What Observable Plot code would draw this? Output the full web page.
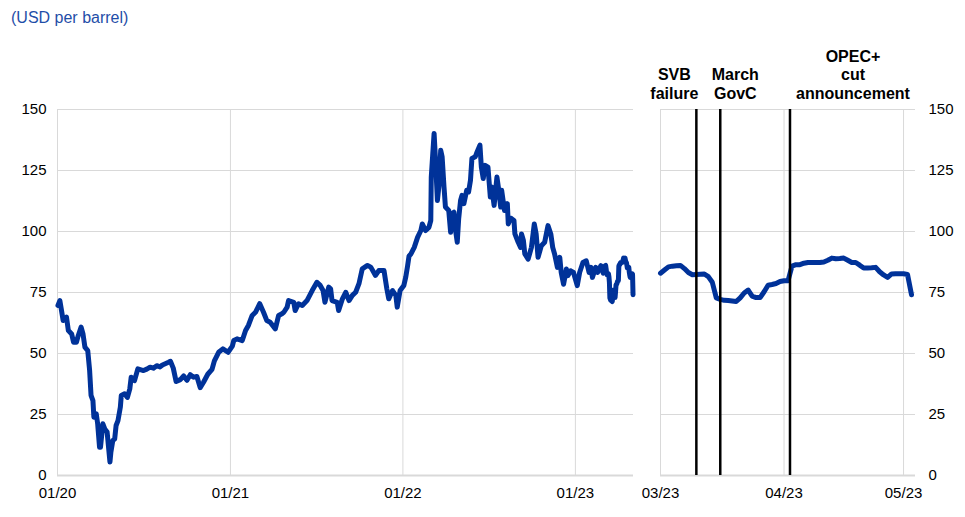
<!DOCTYPE html>
<html><head><meta charset="utf-8">
<script src="https://cdn.jsdelivr.net/npm/d3@7"></script>
<script src="https://cdn.jsdelivr.net/npm/@observablehq/plot@0.6"></script>
<style>
body{margin:0;background:#fff;font-family:"Liberation Sans",Arial,sans-serif;}
#title{height:40px;box-sizing:border-box;padding:9px 0 0 11px;font-size:16px;line-height:18px;color:#1f4ea8;}
#row{display:flex;}
</style></head><body>
<div id="title">(USD per barrel)</div>
<div id="row"><div id="left"></div><div id="right"></div></div>
<script>
// Brent crude oil price, USD per barrel
const brentWeekly = [
["2020-01-02",69.7],["2020-01-06",71.7],["2020-01-10",67.0],["2020-01-13",63.5],["2020-01-20",64.9],["2020-01-24",59.4],["2020-01-31",58.0],["2020-02-04",54.6],["2020-02-10",54.6],["2020-02-14",57.4],["2020-02-20",60.8],["2020-02-24",58.0],["2020-02-28",52.6],["2020-03-05",51.2],["2020-03-09",43.0],["2020-03-12",32.8],["2020-03-16",30.7],["2020-03-18",23.9],["2020-03-23",25.3],["2020-03-26",21.2],["2020-03-30",11.6],["2020-04-01",11.6],["2020-04-06",21.2],["2020-04-10",19.1],["2020-04-15",17.8],["2020-04-21",5.5],["2020-04-23",9.6],["2020-04-27",14.3],["2020-05-01",15.0],["2020-05-04",20.5],["2020-05-08",22.5],["2020-05-13",28.0],["2020-05-15",32.8],["2020-05-22",33.5],["2020-05-28",32.0],["2020-06-02",35.5],["2020-06-05",40.3],["2020-06-12",38.9],["2020-06-19",43.7],["2020-07-01",43.0],["2020-07-08",43.6],["2020-07-15",44.4],["2020-07-22",44.0],["2020-07-29",45.0],["2020-08-05",44.5],["2020-08-10",45.3],["2020-08-16",45.8],["2020-08-23",46.4],["2020-08-27",46.8],["2020-09-02",44.0],["2020-09-08",38.5],["2020-09-17",39.3],["2020-09-24",40.8],["2020-10-01",39.0],["2020-10-08",41.3],["2020-10-15",40.3],["2020-10-22",40.6],["2020-10-29",36.0],["2020-11-05",38.2],["2020-11-14",41.5],["2020-11-23",43.5],["2020-11-28",47.0],["2020-12-07",50.5],["2020-12-16",51.9],["2020-12-27",50.5],
["2021-01-05",53.0],["2021-01-08",55.3],["2021-01-15",56.0],["2021-01-26",55.3],["2021-02-02",59.4],["2021-02-08",61.5],["2021-02-16",65.6],["2021-02-23",66.9],["2021-03-04",70.4],["2021-03-12",66.9],["2021-03-19",63.5],["2021-03-26",62.8],["2021-04-06",60.1],["2021-04-13",65.6],["2021-04-20",66.3],["2021-04-24",66.9],["2021-05-01",69.0],["2021-05-04",71.7],["2021-05-15",71.0],["2021-05-18",67.6],["2021-05-25",70.4],["2021-06-02",69.7],["2021-06-12",71.7],["2021-06-23",75.8],["2021-07-03",79.2],["2021-07-10",77.9],["2021-07-16",75.8],["2021-07-20",71.0],["2021-07-28",77.2],["2021-08-01",76.5],["2021-08-04",71.7],["2021-08-15",71.0],["2021-08-18",67.6],["2021-08-26",72.4],["2021-09-02",75.1],["2021-09-09",71.7],["2021-09-16",73.8],["2021-09-23",75.1],["2021-09-30",78.6],["2021-10-07",84.7],["2021-10-18",86.1],["2021-10-25",85.4],["2021-11-04",82.0],["2021-11-11",84.0],["2021-11-22",84.0],["2021-11-28",76.5],["2021-12-02",72.4],["2021-12-10",75.8],["2021-12-17",73.8],["2021-12-20",69.0],["2021-12-26",75.8],
["2022-01-03",77.9],["2022-01-07",81.3],["2022-01-11",86.0],["2022-01-14",90.0],["2022-01-18",90.8],["2022-01-25",93.5],["2022-02-01",97.6],["2022-02-08",100.4],["2022-02-11",103.1],["2022-02-18",100.4],["2022-02-25",101.7],["2022-03-01",104.5],["2022-03-02",122.3],["2022-03-08",140.2],["2022-03-11",129.2],["2022-03-15",112.7],["2022-03-18",118.2],["2022-03-22",133.3],["2022-03-25",130.6],["2022-03-29",118.2],["2022-04-01",110.0],["2022-04-08",108.6],["2022-04-12",99.7],["2022-04-15",107.3],["2022-04-19",107.9],["2022-04-22",101.1],["2022-04-26",95.6],["2022-04-29",105.2],["2022-05-03",112.7],["2022-05-06",114.8],["2022-05-10",111.4],["2022-05-16",116.9],["2022-05-20",116.2],["2022-05-24",121.0],["2022-05-27",129.9],["2022-06-03",130.6],["2022-06-07",132.6],["2022-06-13",135.4],["2022-06-16",126.4],["2022-06-20",121.7],["2022-06-24",127.1],["2022-06-30",126.4],["2022-07-05",114.1],["2022-07-08",118.2],["2022-07-13",110.7],["2022-07-19",122.3],["2022-07-22",118.2],["2022-07-27",110.0],["2022-07-29",116.9],["2022-08-04",108.6],["2022-08-10",111.4],["2022-08-12",103.1],["2022-08-17",105.5],["2022-08-24",104.5],["2022-08-26",99.0],["2022-09-02",95.6],["2022-09-07",93.5],["2022-09-09",99.0],["2022-09-13",96.3],["2022-09-16",90.8],["2022-09-23",88.7],["2022-09-30",93.5],["2022-10-06",103.1],["2022-10-10",99.0],["2022-10-14",89.4],["2022-10-21",94.2],["2022-10-28",95.6],["2022-11-04",102.4],["2022-11-10",99.0],["2022-11-14",93.5],["2022-11-18",90.8],["2022-11-24",85.3],["2022-11-29",89.4],["2022-12-02",83.2],["2022-12-07",78.4],["2022-12-13",84.6],["2022-12-16",81.9],["2022-12-22",83.9],["2022-12-28",83.2],
["2023-01-05",77.8],["2023-01-10",83.2],["2023-01-17",87.3],["2023-01-24",88.0],["2023-01-30",83.2],["2023-02-03",85.3],["2023-02-06",81.2],["2023-02-13",85.3],["2023-02-17",83.2],["2023-02-24",86.0]
];
// daily values from 1 March 2023 to 3 May 2023
const dailyStart = "2023-03-01";
const brentDaily = [
82.9,84.2,85.5,85.8,86.0,86.1,84.8,83.2,82.3,82.4,82.5,82.6,81.5,79.2,72.8,72.2,71.8,71.7,71.5,71.3,72.8,74.8,76.0,73.5,72.9,72.9,75.3,78.0,78.3,78.7,79.5,
79.8,79.8,85.8,86.4,86.4,87.0,87.3,87.3,87.3,87.3,87.5,88.2,89.1,88.8,88.9,89.1,88.2,87.3,87.3,86.2,85.0,85.0,85.1,85.3,83.5,82.2,81.2,82.6,82.7,82.7,
82.7,82.4,74.1
];
const eventDates = ["2023-03-10","2023-03-16","2023-04-02T12:00Z"];
const eventLabels = ["SVB\nfailure","March\nGovC","OPEC+\ncut\nannouncement"];
const yTicks = [0,25,50,75,100,125,150];
const leftTicks = ["2020-01-01","2021-01-01","2022-01-01","2023-01-01"];
const rightTicks = ["2023-03-01","2023-04-01","2023-05-01"];
const leftDomain = ["2020-01-01","2023-05-04"];
const rightDomain = ["2023-03-01","2023-05-04"];

const daily = brentDaily.map((v,i)=>({date:d3.utcDay.offset(new Date(dailyStart),i), price:v}));
const weekly = brentWeekly.map(([d,v])=>({date:new Date(d), price:v}));
const all = weekly.concat(daily);
const D = a => a.map(d=>new Date(d));
const fmt = d3.utcFormat("%m/%y");
const BLUE = "#003299", GRID = "#d9d9d9", FS = 15;
const style = {fontFamily:'"Liberation Sans",Arial,sans-serif', fontSize:FS+"px", color:"#000", background:"#fff", overflow:"visible"};
const labelOffsets = [-22, 15, 63];
const eventText = i => Plot.text([eventLabels[i]], {x:()=>new Date(eventDates[i]), text:d=>d, frameAnchor:"top", dy:-11,
  dx:labelOffsets[i], lineAnchor:"bottom", lineHeight:1.14, fontWeight:"bold", fontSize:16, fill:"#000"});

const left = Plot.plot({
  width:646, height:477, marginLeft:57, marginRight:13, marginTop:69, marginBottom:42,
  style,
  x:{type:"utc", domain:D(leftDomain), label:null},
  y:{domain:[0,150], label:null},
  marks:[
    Plot.gridY(yTicks,{stroke:GRID, strokeOpacity:1}),
    Plot.gridX(D(leftTicks),{stroke:GRID, strokeOpacity:1}),
    Plot.ruleY([0],{stroke:GRID, strokeWidth:2}),
    Plot.line(all,{x:"date", y:"price", stroke:BLUE, strokeWidth:5, strokeLinejoin:"round"}),
    Plot.axisY(yTicks,{anchor:"left", tickSize:0, tickPadding:11, fontSize:FS, label:null}),
    Plot.axisX(D(leftTicks),{anchor:"bottom", tickSize:0, tickPadding:12, fontSize:FS, tickFormat:fmt, label:null})
  ]
});
const right = Plot.plot({
  width:319, height:477, marginLeft:14, marginRight:50, marginTop:69, marginBottom:42,
  style,
  x:{type:"utc", domain:D(rightDomain), label:null},
  y:{domain:[0,150], label:null},
  marks:[
    Plot.gridY(yTicks,{stroke:GRID, strokeOpacity:1}),
    Plot.gridX(D(rightTicks),{stroke:GRID, strokeOpacity:1}),
    Plot.ruleY([0],{stroke:GRID, strokeWidth:2}),
    Plot.line(daily,{x:"date", y:"price", stroke:BLUE, strokeWidth:5, strokeLinejoin:"round"}),
    Plot.ruleX(D(eventDates),{stroke:"#000", strokeWidth:2.5}),
    eventText(0), eventText(1), eventText(2),
    Plot.axisY(yTicks,{anchor:"right", tickSize:0, tickPadding:13, fontSize:FS, textAnchor:"start", label:null}),
    Plot.axisX(D(rightTicks),{anchor:"bottom", tickSize:0, tickPadding:12, fontSize:FS, tickFormat:fmt, label:null})
  ]
});
document.getElementById("left").append(left);
document.getElementById("right").append(right);
</script>
</body></html>
